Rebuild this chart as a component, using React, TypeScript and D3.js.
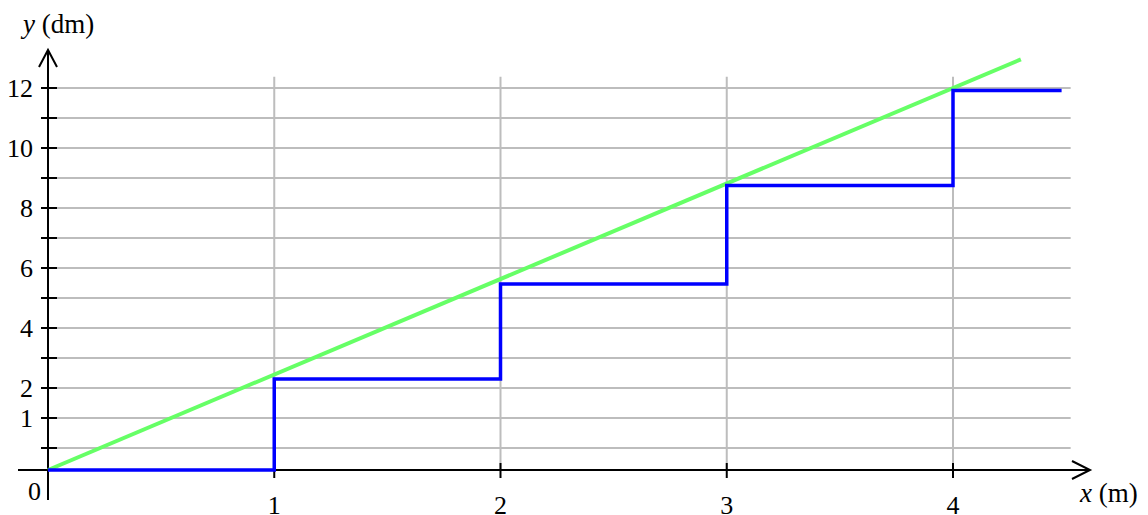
import React from "react";
import * as d3 from "d3";

const xTickValues = [1, 2, 3, 4];
const gridRows = [0, 1, 2, 3, 4, 5, 6, 7, 8, 9, 10, 11, 12];
const gridRowLabels = ["", "1", "2", "", "4", "", "6", "", "8", "", "10", "", "12"];
const stepX = [0, 1, 2, 3, 4, 4.48];
const stepY = [0, 2.86, 5.84, 8.94, 11.92, 11.92];
const lineX = [0, 4.3];
const lineY = [0, 12.9];
const gridEndX = 4.52;
const gridTopY = 12.35;

export default function App() {
  const W = 1148, H = 515;
  const x = d3.scaleLinear().domain([0, 4]).range([48, 953]);
  const y = d3.scaleLinear().domain([0, 12]).range([470, 88]);
  const yGrid = d3.scaleLinear().domain([0, 12]).range([448, 88]);
  const family = "Liberation Serif, Tinos, DejaVu Serif, serif";
  const tickStyle: React.CSSProperties = { fontFamily: family, fontSize: "26px" };
  const titleStyle: React.CSSProperties = { fontFamily: family, fontSize: "27px" };

  const stepPath = d3
    .line<number>()
    .x((_, i) => x(stepX[i]))
    .y((_, i) => y(stepY[i]))
    .curve(d3.curveStepAfter)(stepX) as string;
  const greenPath = d3
    .line<number>()
    .x((_, i) => x(lineX[i]))
    .y((_, i) => y(lineY[i]))(lineX) as string;

  const x0 = x(0), y0 = y(0);
  const xEnd = 1090, yTop = 50;

  return (
    <svg width={W} height={H} style={{ position: "absolute", left: 0, top: 0, background: "#fff" }}>
      {gridRows.map((r) => (
        <line key={"h" + r} x1={x0} x2={x(gridEndX)} y1={yGrid(r)} y2={yGrid(r)} stroke="#bdbdbd" strokeWidth={2} />
      ))}
      {xTickValues.map((v) => (
        <line key={"v" + v} x1={x(v)} x2={x(v)} y1={y(gridTopY)} y2={y0} stroke="#bdbdbd" strokeWidth={2} />
      ))}
      {gridRows.map((r) => (
        <line key={"yt" + r} x1={41} x2={57} y1={yGrid(r)} y2={yGrid(r)} stroke="#000" strokeWidth={2} />
      ))}
      {gridRows.map((r, i) =>
        gridRowLabels[i] ? (
          <text key={"yl" + r} x={33} y={yGrid(r)} dy="0.34em" textAnchor="end" style={tickStyle}>
            {gridRowLabels[i]}
          </text>
        ) : null
      )}
      {xTickValues.map((v) => (
        <g key={"xt" + v}>
          <line x1={x(v)} x2={x(v)} y1={463} y2={478} stroke="#000" strokeWidth={2} />
          <text x={x(v)} y={514} textAnchor="middle" style={tickStyle}>
            {v}
          </text>
        </g>
      ))}
      <line x1={18} x2={xEnd} y1={y0} y2={y0} stroke="#000" strokeWidth={2} />
      <polyline points={`${xEnd - 18},${y0 - 9} ${xEnd},${y0} ${xEnd - 18},${y0 + 9}`} fill="none" stroke="#000" strokeWidth={2} />
      <line x1={x0} x2={x0} y1={500} y2={yTop} stroke="#000" strokeWidth={2} />
      <polyline points={`${x0 - 9},${yTop + 17} ${x0},${yTop} ${x0 + 9},${yTop + 17}`} fill="none" stroke="#000" strokeWidth={2} />
      <path d={greenPath} fill="none" stroke="#66ff66" strokeWidth={4} />
      <path d={stepPath} fill="none" stroke="#0000ff" strokeWidth={3.5} />
      <text x={41} y={500} textAnchor="end" style={tickStyle}>0</text>
      <text x={23} y={33} style={titleStyle}>
        <tspan fontStyle="italic">y</tspan> (dm)
      </text>
      <text x={1080} y={502} style={titleStyle}>
        <tspan fontStyle="italic">x</tspan> (m)
      </text>
    </svg>
  );
}
